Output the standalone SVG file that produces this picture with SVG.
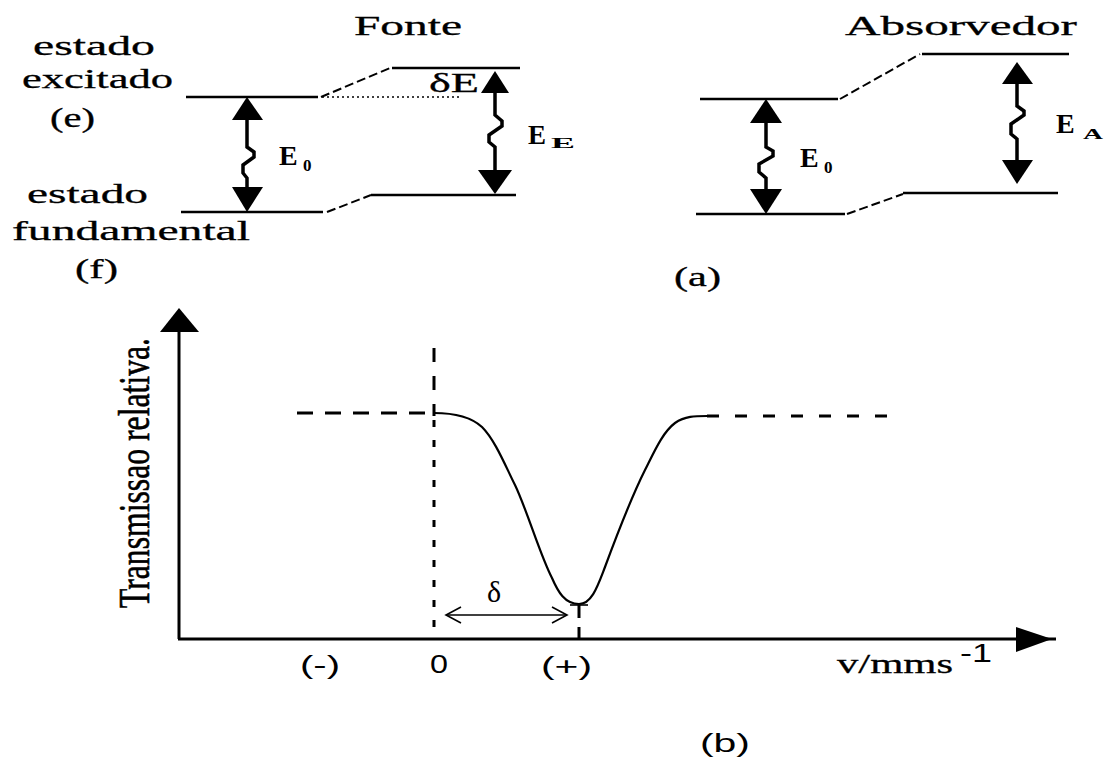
<svg xmlns="http://www.w3.org/2000/svg" width="1108" height="758" viewBox="0 0 1108 758">
<style>
.lvl{stroke:#000;stroke-width:2.5;fill:none}
.slope{stroke:#000;stroke-width:2;fill:none;stroke-dasharray:9 4}
.dot{stroke:#000;stroke-width:1.5;fill:none;stroke-dasharray:2 3}
.shaft{stroke:#000;stroke-width:3.5;fill:none;stroke-linejoin:miter}
.head{fill:#000}
.axis{stroke:#000;stroke-width:3;fill:none}
.dash{stroke:#000;stroke-width:3;fill:none}
.curve{stroke:#000;stroke-width:2.2;fill:none}
.thin{stroke:#000;stroke-width:1.6;fill:none}
.lab{font-family:"Liberation Serif",serif;font-size:28px;fill:#000;stroke:#000;stroke-width:0.3}
.ser{font-family:"Liberation Serif",serif;fill:#000}
.sans{font-family:"Liberation Sans",sans-serif;font-size:26px;fill:#000}
</style>
<rect width="1108" height="758" fill="#fff"/>

<g id="labels-left">
<text class="lab" x="33" y="55" textLength="122" lengthAdjust="spacingAndGlyphs">estado</text>
<text class="lab" x="22" y="88" textLength="151" lengthAdjust="spacingAndGlyphs">excitado</text>
<text class="lab" x="50" y="127" textLength="45" lengthAdjust="spacingAndGlyphs">(e)</text>
<text class="lab" x="27" y="203" textLength="121" lengthAdjust="spacingAndGlyphs">estado</text>
<text class="lab" x="12" y="240" textLength="238" lengthAdjust="spacingAndGlyphs">fundamental</text>
<text class="lab" x="75" y="278" textLength="43" lengthAdjust="spacingAndGlyphs">(f)</text>
</g>

<g id="fonte">
<text class="lab" x="354" y="35" textLength="108" lengthAdjust="spacingAndGlyphs">Fonte</text>
<line class="lvl" x1="186" y1="97" x2="318" y2="97"/>
<path class="slope" d="M321,97 L390,68"/>
<line class="lvl" x1="392" y1="68" x2="520" y2="68"/>
<line class="dot" x1="322" y1="97" x2="460" y2="97"/>
<line class="lvl" x1="181" y1="212" x2="323" y2="212"/>
<path class="slope" d="M327,212 L371,195"/>
<line class="lvl" x1="371" y1="195" x2="516" y2="195"/>
<path class="shaft" d="M247,119 V147 L254,152 V157 L243,165 V173 L247,178 V189"/>
<polygon class="head" points="247,97 232,120 263,120"/>
<polygon class="head" points="232,187 263,187 247,212"/>
<text class="ser" x="279" y="165" font-size="28" font-weight="bold">E</text>
<text class="ser" x="303" y="171" font-size="17" font-weight="bold">0</text>
<path class="shaft" d="M495,92 V115 L502,121 V126 L489,135 V142 L495,147 V171"/>
<polygon class="head" points="495,71 481,93 509,93"/>
<polygon class="head" points="478,170 512,170 495,194"/>
<text class="lab" x="429" y="92" font-size="30" textLength="50" lengthAdjust="spacingAndGlyphs">δE</text>
<text class="ser" x="528" y="144" font-size="27" font-weight="bold">E</text>
<text class="ser" x="551" y="148" font-size="15" font-weight="bold" textLength="24" lengthAdjust="spacingAndGlyphs">E</text>
</g>

<g id="absorvedor">
<text class="lab" x="845" y="35" textLength="232" lengthAdjust="spacingAndGlyphs">Absorvedor</text>
<line class="lvl" x1="700" y1="99" x2="838" y2="99"/>
<path class="slope" d="M840,99 L920,54"/>
<line class="lvl" x1="922" y1="54" x2="1069" y2="54"/>
<line class="lvl" x1="696" y1="214" x2="845" y2="214"/>
<path class="slope" d="M847,214 L903,194"/>
<line class="lvl" x1="903" y1="193" x2="1058" y2="193"/>
<path class="shaft" d="M766,122 V147 L773,151 V156 L759,164 V172 L766,178 V190"/>
<polygon class="head" points="766,99 750,123 782,123"/>
<polygon class="head" points="750,189 782,189 766,214"/>
<text class="ser" x="800" y="167" font-size="28" font-weight="bold">E</text>
<text class="ser" x="824" y="173" font-size="17" font-weight="bold">0</text>
<path class="shaft" d="M1017,83 V106 L1024,111 V115 L1011,124 V134 L1017,139 V161"/>
<polygon class="head" points="1017,62 1002,84 1033,84"/>
<polygon class="head" points="1002,160 1033,160 1017,184"/>
<text class="ser" x="1056" y="133" font-size="28" font-weight="bold">E</text>
<text class="ser" x="1083" y="139" font-size="14" font-weight="bold" textLength="20" lengthAdjust="spacingAndGlyphs">A</text>
<text class="lab" x="674" y="286" textLength="47" lengthAdjust="spacingAndGlyphs">(a)</text>
</g>

<g id="graph">
<line class="axis" x1="179" y1="639" x2="179" y2="330"/>
<polygon class="head" points="179,308 160,332 199,332"/>
<line class="axis" x1="178" y1="639" x2="1056" y2="639"/>
<polygon class="head" points="1016,627 1016,652 1052,639"/>
<text class="ser" transform="rotate(-90)" x="-608" y="149" font-size="44" stroke="#000" stroke-width="0.6" textLength="270" lengthAdjust="spacingAndGlyphs">Transmissao relativa.</text>
<line class="dash" x1="297" y1="413" x2="434" y2="413" stroke-dasharray="16 12"/>
<line class="dash" x1="434" y1="348" x2="434" y2="416" stroke-dasharray="14 14"/>
<line class="dash" x1="434" y1="420" x2="434" y2="639" stroke-dasharray="7 13"/>
<path class="curve" d="M434,413 C452,413 470,416 482,427 C495,440 505,465 515,485 C527,510 540,555 552,578 C558,592 565,604 579,604 C592,604 598,585 605,567 C615,540 630,500 645,470 C655,450 663,432 675,423 C685,416 695,416 707,416"/>
<line class="dash" x1="707" y1="416" x2="888" y2="416" stroke-dasharray="12 16"/>
<line class="thin" x1="570" y1="605" x2="588" y2="605"/>
<line class="dash" x1="579" y1="605" x2="579" y2="618"/>
<line class="dash" x1="579" y1="627" x2="579" y2="639"/>
<line class="thin" x1="446" y1="615" x2="567" y2="615"/>
<path class="thin" d="M461,607 L446,615 L461,623"/>
<path class="thin" d="M552,607 L567,615 L552,623"/>
<text class="ser" x="487" y="602" font-size="30">δ</text>
<text class="sans" x="300" y="674" textLength="40" lengthAdjust="spacingAndGlyphs">(-)</text>
<text class="sans" x="430" y="673" textLength="18" lengthAdjust="spacingAndGlyphs">0</text>
<text class="sans" x="541" y="675" textLength="51" lengthAdjust="spacingAndGlyphs">(+)</text>
<text class="lab" x="837" y="673" textLength="116" lengthAdjust="spacingAndGlyphs">v/mms</text>
<text class="sans" x="960" y="662" textLength="32" lengthAdjust="spacingAndGlyphs">-1</text>
<text class="sans" x="700" y="752" textLength="50" lengthAdjust="spacingAndGlyphs">(b)</text>
</g>
</svg>
